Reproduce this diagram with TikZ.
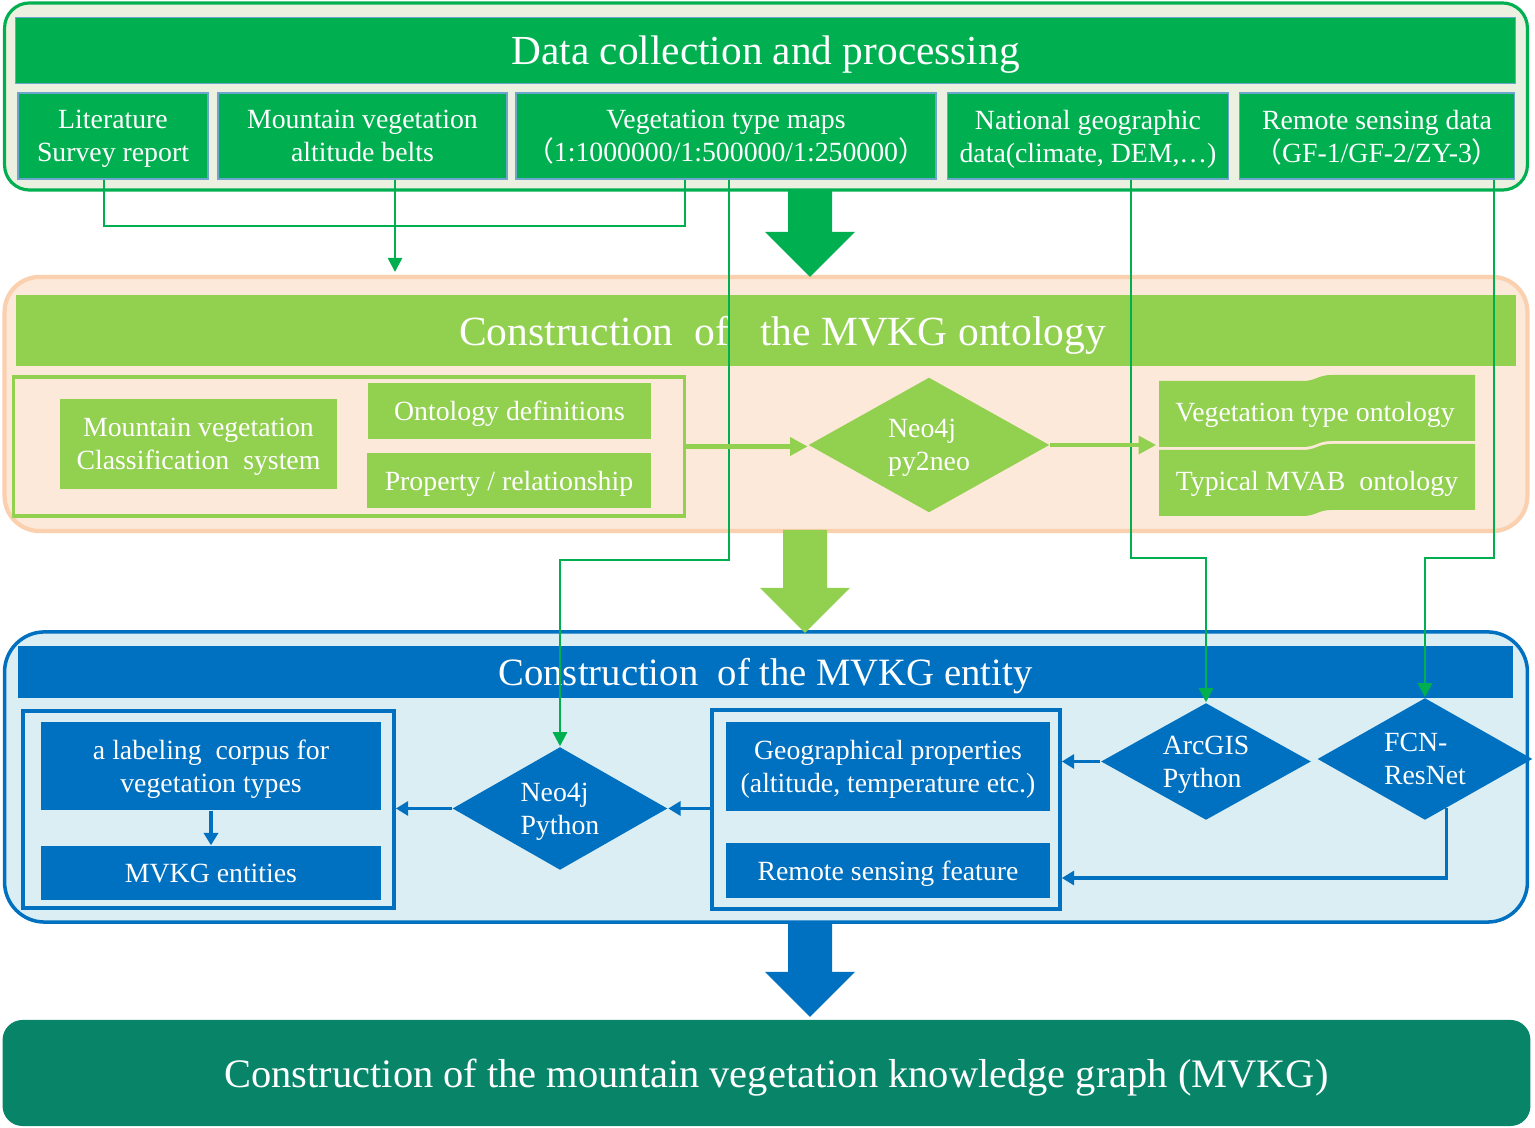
\documentclass[tikz,border=0pt]{standalone}
\usepackage{fontspec}
\setmainfont{Liberation Serif}
\newfontfamily\cjk{Noto Sans CJK SC}
\usetikzlibrary{shapes.geometric, arrows.meta, calc}

\definecolor{datagreen}{RGB}{0,176,80}
\definecolor{ontogreen}{RGB}{146,208,80}
\definecolor{entityblue}{RGB}{0,112,192}
\definecolor{kgteal}{RGB}{8,133,105}
\definecolor{databg}{RGB}{236,240,224}
\definecolor{ontobg}{RGB}{253,233,217}
\definecolor{ontoedge}{RGB}{250,208,175}
\definecolor{entitybg}{RGB}{218,238,243}
\definecolor{boxedge}{RGB}{110,165,205}

\newcommand{\fwl}{{\cjk （}} % full-width brackets
\newcommand{\fwr}{{\cjk ）}}

\tikzset{
    every node/.style={text=white, align=center, inner sep=0pt, text depth=0pt},
    subtext/.style={font=\fontsize{7.9}{9.4}\selectfont},
    panel/.style={line width=0.9pt, rounded corners=0.25cm},
    databox/.style={subtext, fill=datagreen, draw=boxedge, line width=0.5pt},
    ontobox/.style={subtext, fill=ontogreen},
    entitybox/.style={subtext, fill=entityblue},
    decision/.style={subtext, diamond, aspect=1.8, align=left},
    feed/.style={datagreen, line width=0.7pt, -{Triangle[length=4pt, width=4pt]}},
    ontoflow/.style={ontogreen, line width=1.4pt, -{Triangle[length=5pt, width=5pt]}},
    entityflow/.style={entityblue, line width=0.9pt, -{Triangle[length=3.5pt, width=4pt]}},
    downarrow/.pic={
        \fill (-22,0) -- (22,0) -- (22,#1) -- (45,#1) -- (0,#1+45)
            -- (-45,#1) -- (-22,#1) -- cycle;
    },
    ontodoc/.pic={
        \fill[ontogreen] (-158,-31) -- (-15,-31) .. controls (0,-31) and (0,-37)
            .. (15,-37) -- (158,-37) -- (158,29) -- (15,29)
            .. controls (0,29) and (0,35) .. (-15,35) -- (-158,35) -- cycle;
    },
}

\begin{document}
\begin{tikzpicture}[x=0.01cm, y=-0.01cm]
    \useasboundingbox (0,0) rectangle (1535,1128);

    % Data collection and processing
    \node[panel, draw=datagreen, fill=databg, minimum width=15.22cm,
        minimum height=1.87cm] (datapanel) at (766,96.5) {};
    \node[fill=datagreen, draw=boxedge, line width=0.5pt, minimum width=14.99cm,
        minimum height=0.66cm, font=\fontsize{11.75}{14}\selectfont]
        (datatitle) at (765.5,50.5) {Data collection and processing};
    \node[databox, minimum width=1.90cm, minimum height=0.86cm] (lit)
        at (113,136) {Literature\\Survey report};
    \node[databox, minimum width=2.89cm, minimum height=0.86cm] (belts)
        at (362.5,136) {Mountain vegetation\\altitude belts};
    \node[databox, minimum width=4.20cm, minimum height=0.86cm] (vegmap)
        at (726,136) {Vegetation type maps\\\fwl 1:1000000/1:500000/1:250000\fwr};
    \node[databox, minimum width=2.81cm, minimum height=0.86cm] (natgeo)
        at (1088,136) {National geographic\\data(climate, DEM,…)};
    \node[databox, minimum width=2.75cm, minimum height=0.86cm] (remote)
        at (1377,136) {Remote sensing data\\\fwl GF-1/GF-2/ZY-3\fwr};

    % Construction of the MVKG ontology
    \node[panel, draw=ontoedge, fill=ontobg, line width=1.2pt, rounded corners=0.35cm,
        minimum width=15.22cm, minimum height=2.54cm] (ontopanel) at (766,404) {};
    \node[fill=ontogreen, minimum width=15.0cm, minimum height=0.70cm,
        font=\fontsize{11.8}{14}\selectfont] (ontotitle) at (766,330.5)
        {\hspace*{0.33cm}Construction~ of~~ the MVKG ontology};
    \node[draw=ontogreen, line width=0.9pt, minimum width=6.70cm,
        minimum height=1.39cm] (ontoframe) at (349,446.5) {};
    \node[ontobox, minimum width=2.76cm, minimum height=0.89cm] (classsys)
        at (198.5,444) {Mountain vegetation\\Classification~ system};
    \node[ontobox, minimum width=2.83cm, minimum height=0.56cm] (ontodef)
        at (509.5,411) {Ontology definitions};
    \node[ontobox, minimum width=2.84cm, minimum height=0.55cm] (proprel)
        at (509,480.5) {Property / relationship};
    \node[decision, fill=ontogreen, minimum width=2.41cm, minimum height=1.35cm]
        (pyneo) at (929,445) {Neo4j\\py2neo};
    \pic at (1317,412) {ontodoc};
    \node[subtext, minimum width=3.16cm, minimum height=0.66cm] (vegonto)
        at (1315,412) {Vegetation type ontology};
    \pic at (1317,481) {ontodoc};
    \node[subtext, minimum width=3.16cm, minimum height=0.66cm] (mvabonto)
        at (1317,481) {Typical MVAB~ ontology};

    % Construction of the MVKG entity
    \node[panel, draw=entityblue, fill=entitybg, line width=1pt, rounded corners=0.4cm,
        minimum width=15.22cm, minimum height=2.90cm] (entitypanel) at (766,777) {};
    \node[fill=entityblue, minimum width=14.95cm, minimum height=0.52cm,
        font=\fontsize{11}{13}\selectfont] (entitytitle) at (765.5,672)
        {Construction~ of the MVKG entity};
    \node[draw=entityblue, line width=1pt, minimum width=3.71cm,
        minimum height=1.97cm] (leftframe) at (208.5,809.5) {};
    \node[entitybox, minimum width=3.40cm, minimum height=0.88cm] (corpus)
        at (211,766) {a labeling~ corpus for\\vegetation types};
    \node[entitybox, minimum width=3.40cm, minimum height=0.54cm] (entities)
        at (211,873) {MVKG entities};
    \node[decision, fill=entityblue, minimum width=2.15cm, minimum height=1.23cm]
        (neopy) at (560,808.5) {Neo4j\\Python};
    \node[draw=entityblue, line width=1pt, minimum width=3.48cm,
        minimum height=1.99cm] (rightframe) at (886,809.5) {};
    \node[entitybox, minimum width=3.24cm, minimum height=0.89cm] (geoprop)
        at (888,766.5) {Geographical properties\\(altitude, temperature etc.)};
    \node[entitybox, minimum width=3.24cm, minimum height=0.55cm] (rsfeat)
        at (888,870.5) {Remote sensing feature};
    \node[decision, fill=entityblue, minimum width=2.10cm, minimum height=1.17cm]
        (arcgis) at (1206,761.5) {ArcGIS\\Python};
    \node[decision, fill=entityblue, minimum width=2.15cm, minimum height=1.22cm]
        (fcn) at (1425,759) {FCN-\\ResNet};

    % MVKG
    \node[fill=kgteal, rounded corners=0.2cm, minimum width=15.27cm,
        minimum height=1.06cm, font=\fontsize{11.5}{14}\selectfont] (mvkg)
        at (766.5,1073) {\hspace*{0.2cm}Construction of the mountain vegetation
        knowledge graph (MVKG)};

    \pic[color=datagreen] at (810,190) {downarrow=42}; % Stage arrows
    \pic[color=ontogreen] at (805,530) {downarrow=58};
    \pic[color=entityblue] at (810,922) {downarrow=50};

    % Data feeds
    \coordinate (litturn) at (104,226);
    \coordinate (mapturn) at (685,226);
    \draw[datagreen, line width=0.7pt] (lit.south -| litturn) -- (litturn)
        -- (mapturn) -- (vegmap.south -| mapturn);
    \coordinate (beltsdrop) at (395,272);
    \draw[feed] (belts.south -| beltsdrop) -- (beltsdrop);
    \coordinate (mapbend) at (729,560);
    \draw[feed] (vegmap.south -| mapbend) -- (mapbend) -| (neopy.north);
    \coordinate (geobend) at (1131,558);
    \draw[feed] (natgeo.south -| geobend) -- (geobend) -| (arcgis.north);
    \coordinate (rsbend) at (1494,558);
    \draw[feed] (remote.south -| rsbend) -- (rsbend) -| (fcn.north);

    \draw[ontoflow] (ontoframe.east) -- (ontoframe.east -| pyneo.west);
    \draw[ontoflow] (pyneo.east) -- (pyneo.east -| vegonto.west);

    \draw[entityflow] (corpus.south) -- (entities.north);
    \draw[entityflow] (neopy.west) -- (neopy.west -| leftframe.east);
    \draw[entityflow] (rightframe.west |- neopy.east) -- (neopy.east);
    \draw[entityflow] (arcgis.west) -- (arcgis.west -| rightframe.east);
    \coordinate (rsin) at ([yshift=-0.075cm]rsfeat.east);
    \draw[entityflow] ($(fcn.south)!0.2!(fcn.east)$) |- (rsin -| rightframe.east);
\end{tikzpicture}
\end{document}
